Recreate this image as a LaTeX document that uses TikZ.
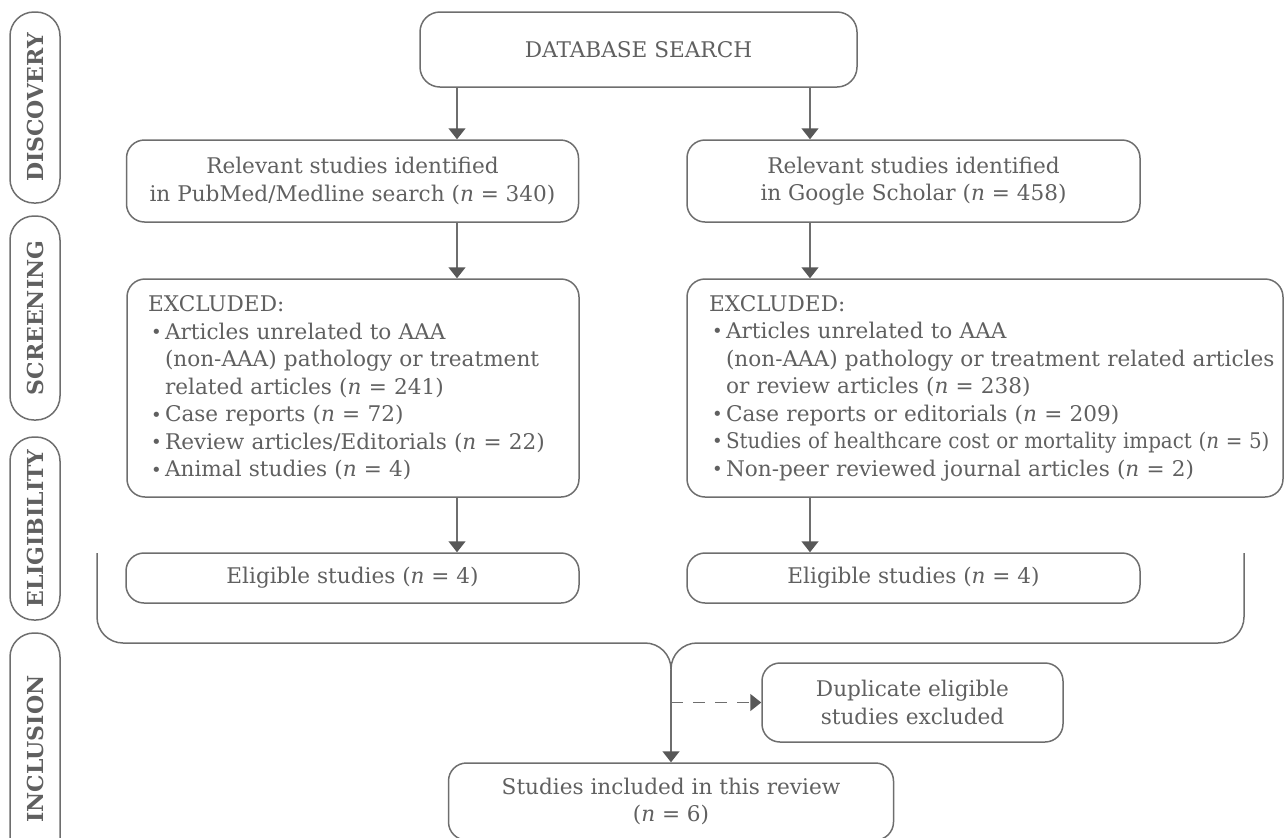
\documentclass[tikz,border=0pt]{standalone}
\usepackage{fontspec}
\usepackage{graphicx}
\setmainfont{DejaVu Serif}
\usetikzlibrary{arrows.meta}
\definecolor{ln}{HTML}{6E6E6E}
\definecolor{tx}{HTML}{606060}
\definecolor{ah}{HTML}{585858}
\newcommand\mainfnt{\fontsize{10.8pt}{13.75pt}\selectfont}
\newcommand\labfnt{\bfseries\fontsize{11pt}{13pt}\selectfont}
\newcommand\nvar{\textit{n}}
\newcommand\bul{\makebox[8.5pt][l]{\hspace*{1.5pt}\raisebox{0.4pt}{\fontsize{9pt}{9pt}\selectfont\textbullet}}}
\newcommand\ind{\hspace*{8.5pt}}
\tikzset{
  box/.style={draw=ln, line width=0.75pt, rounded corners=9pt, text=tx,
    font=\mainfnt, inner sep=0pt, align=center},
  exbox/.style={box, align=left, inner xsep=10.5pt},
  pill/.style={draw=ln, line width=0.75pt, rounded corners=12pt, rotate=90,
    minimum height=25pt, inner sep=0pt, font=\labfnt, text=tx},
  conn/.style={draw=ln, line width=0.75pt},
  arr/.style={conn, -{Triangle[length=5.5pt,width=8.5pt,color=ah]}},
}
\begin{document}
\begin{tikzpicture}[x=0.5pt,y=-0.5pt]
\useasboundingbox (0,0) rectangle (1285,837);

% phase labels
\node[pill, minimum width=95.5pt] (p1) at (35,107.5) {DISCOVERY};
\node[pill, minimum width=102pt] (p2) at (35,318) {SCREENING};
\node[pill, minimum width=91.5pt] (p3) at (35,528.5) {ELIGIBILITY};
\node[pill, minimum width=116pt] (p4) at (35,749) {INCLUSION};

% boxes
\node[box, rounded corners=10pt, minimum width=218.5pt, minimum height=37.5pt] (db) at (638.5,49.5) {DATABASE SEARCH};
\node[box, minimum width=226pt, minimum height=41pt] (rel1) at (352.5,181)
  {Relevant studies identified\\in PubMed/Medline search (\nvar{} = 340)};
\node[box, minimum width=226.5pt, minimum height=41pt] (rel2) at (913.5,181)
  {Relevant studies identified\\in Google Scholar (\nvar{} = 458)};

\node[exbox, text width=205pt, minimum height=109pt] (exc1) at (353,388)
  {EXCLUDED:\\
   \bul Articles unrelated to AAA\\
   \ind\mbox{(non-AAA) pathology or treatment}\\
   \ind related articles (\nvar{} = 241)\\
   \bul Case reports (\nvar{} = 72)\\
   \bul\mbox{Review articles/Editorials (\nvar{} = 22)}\\
   \bul Animal studies (\nvar{} = 4)};
\node[exbox, inner xsep=11pt, text width=276pt, minimum height=109pt] (exc2) at (985,388)
  {EXCLUDED:\\
   \bul Articles unrelated to AAA\\
   \ind\mbox{(non-AAA) pathology or treatment related articles}\\
   \ind or review articles (\nvar{} = 238)\\
   \bul Case reports or editorials (\nvar{} = 209)\\
   \bul\scalebox{0.92}[1]{Studies of healthcare cost or mortality impact (\nvar{} = 5)}\\
   \bul Non-peer reviewed journal articles (\nvar{} = 2)};

\node[box, minimum width=226.5pt, minimum height=25pt] (el1) at (352.5,578) {Eligible studies (\nvar{} = 4)};
\node[box, minimum width=226.5pt, minimum height=25pt] (el2) at (913.5,578) {Eligible studies (\nvar{} = 4)};

\node[box, minimum width=150.5pt, minimum height=39.5pt] (dup) at (912.5,702.5)
  {Duplicate eligible\\studies excluded};
\node[box, minimum width=222.5pt, minimum height=38.5pt] (inc) at (671,801.5)
  {Studies included in this review\\(\nvar{} = 6)};

% connector columns
\coordinate (cl) at (457,0);
\coordinate (cr) at (810,0);
\draw[arr] (db.south -| cl) -- (rel1.north -| cl);
\draw[arr] (db.south -| cr) -- (rel2.north -| cr);
\draw[arr] (rel1.south -| cl) -- (exc1.north -| cl);
\draw[arr] (rel2.south -| cr) -- (exc2.north -| cr);
\draw[arr] (exc1.south -| cl) -- (el1.north -| cl);
\draw[arr] (exc2.south -| cr) -- (el2.north -| cr);

% bracket merging the two columns
\coordinate (bl) at (97,553);
\coordinate (br) at (1244,553);
\coordinate (hy) at (0,643);
\coordinate (jn) at (671,670);
\draw[conn, rounded corners=13pt] (bl) -- (bl |- hy) -- (jn |- hy) -- (jn);
\draw[conn, rounded corners=13pt] (br) -- (br |- hy) -- (jn |- hy) -- (jn);
\draw[arr] (jn) -- (inc.north);
\coordinate (dd) at (671,702.5);
\draw[arr, dash pattern=on 6pt off 5pt] (dd) -- (dup.west);
\end{tikzpicture}
\end{document}
